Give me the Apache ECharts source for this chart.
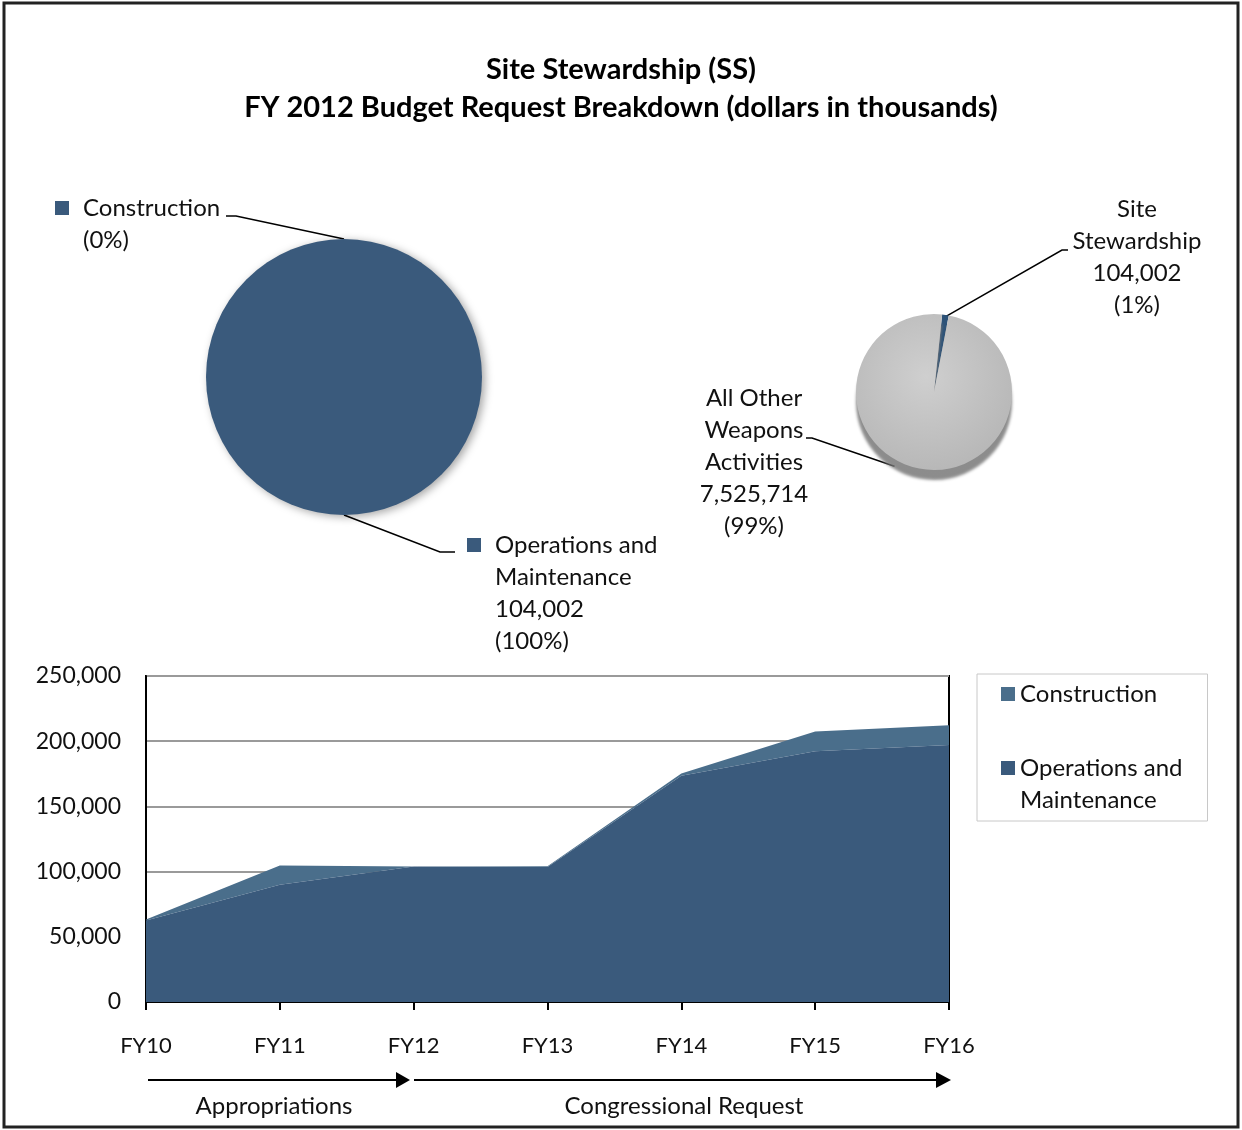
<!DOCTYPE html>
<html>
<head>
<meta charset="utf-8">
<script src="https://cdn.jsdelivr.net/npm/echarts@6/dist/echarts.min.js"></script>
<style>
html,body{margin:0;padding:0;background:#fff;}
#chart{width:1242px;height:1130px;}
</style>
</head>
<body>
<div id="chart"></div>
<script>
// ---------- data ----------
const titleLines = ['Site Stewardship (SS)', 'FY 2012 Budget Request Breakdown (dollars in thousands)'];

const categories = ['FY10', 'FY11', 'FY12', 'FY13', 'FY14', 'FY15', 'FY16'];
const omValues = [62500, 90000, 104002, 103500, 173500, 192300, 197100];
const constructionValues = [700, 14600, 0, 600, 1800, 15100, 15100];
const yAxisMin = 0, yAxisMax = 250000, yAxisInterval = 50000;

const leftPieNames = ['Construction', 'Operations and Maintenance'];
const leftPieValues = [0, 104002];

const rightPieNames = ['Site Stewardship', 'All Other Weapons Activities'];
const rightPieValues = [104002, 7525714];

const periodLabels = ['Appropriations', 'Congressional Request'];

// ---------- styling / layout ----------
const FONT = 'Lato, "Open Sans", sans-serif';
const TXT = '#111';
const C_OM = '#3A5A7C';
const C_CON = '#4A6E8B';
const C_SS = '#2C5278';
const FS = 24;

const LP = {cx: 344, cy: 377, r: 138};
const RP = {cx: 934, cy: 392, r: 78, start: 84};

const lineBreaks = {
  'Operations and Maintenance': ['Operations and', 'Maintenance'],
  'Construction': ['Construction'],
  'Site Stewardship': ['Site', 'Stewardship'],
  'All Other Weapons Activities': ['All Other', 'Weapons', 'Activities']
};
function fmt(v) { return v.toLocaleString('en-US'); }
function edge(cx, cy, r, deg) {
  const a = deg * Math.PI / 180;
  return [cx + r * Math.cos(a), cy - r * Math.sin(a)];
}

const chart = echarts.init(document.getElementById('chart'));

const rightTotal = rightPieValues.reduce((a, b) => a + b, 0);
const ssMid = RP.start - 360 * rightPieValues[0] / rightTotal / 2;

const option = {
  animation: false,
  backgroundColor: '#fff',
  textStyle: {fontFamily: FONT},
  title: {
    text: titleLines.join('\n'),
    left: 'center',
    top: 46,
    textStyle: {fontFamily: FONT, fontSize: 29, fontWeight: 'bold', color: '#000', lineHeight: 38}
  },
  legend: {
    data: ['Construction', 'Operations and Maintenance'],
    orient: 'vertical',
    left: 977,
    top: 674,
    icon: 'rect',
    itemWidth: 14,
    itemHeight: 14,
    itemGap: 10,
    padding: [4, 25, 5, 24],
    borderColor: '#c8c8c8',
    borderWidth: 1,
    selectedMode: false,
    formatter: function (n) {
      return n === 'Operations and Maintenance' ? '\nOperations and\nMaintenance' : n;
    },
    textStyle: {fontFamily: FONT, fontSize: FS, color: TXT, lineHeight: 32}
  },
  grid: {
    left: 146, right: 293, top: 676, bottom: 128,
    show: true, borderColor: '#000', borderWidth: 2, backgroundColor: '#fff',
    outerBoundsMode: 'none'
  },
  xAxis: {
    type: 'category',
    data: categories,
    boundaryGap: false,
    axisLine: {lineStyle: {color: '#000', width: 2}},
    axisTick: {show: true, length: 8, lineStyle: {color: '#000', width: 2}},
    axisLabel: {fontFamily: FONT, fontSize: 22, color: TXT, margin: 33},
    splitLine: {show: false}
  },
  yAxis: {
    type: 'value',
    min: yAxisMin, max: yAxisMax, interval: yAxisInterval,
    axisLine: {show: true, lineStyle: {color: '#000', width: 2}},
    axisTick: {show: false},
    axisLabel: {fontFamily: FONT, fontSize: 23, color: TXT, margin: 25, formatter: v => fmt(v)},
    splitLine: {lineStyle: {color: '#9a9a9a', width: 2}}
  },
  series: [
    {
      name: 'Operations and Maintenance',
      type: 'line',
      stack: 'total',
      data: omValues,
      symbol: 'none',
      lineStyle: {width: 0},
      areaStyle: {color: C_OM, opacity: 1},
      itemStyle: {color: C_OM},
      z: 3
    },
    {
      name: 'Construction',
      type: 'line',
      stack: 'total',
      data: constructionValues,
      symbol: 'none',
      lineStyle: {width: 0},
      areaStyle: {color: C_CON, opacity: 1},
      itemStyle: {color: C_CON},
      z: 2
    },
    {
      name: 'SS breakdown',
      type: 'pie',
      center: [LP.cx, LP.cy],
      radius: [0, LP.r],
      startAngle: 90,
      clockwise: true,
      percentPrecision: 0,
      avoidLabelOverlap: false,
      emphasis: {disabled: true},
      silent: true,
      data: leftPieNames.map((n, i) => ({name: n, value: leftPieValues[i], itemStyle: {color: C_OM}})),
      itemStyle: {shadowBlur: 8, shadowOffsetX: 3, shadowOffsetY: 2, shadowColor: 'rgba(0,0,0,0.35)'},
      label: {
        show: true,
        position: 'outside',
        formatter: function (p) {
          const lines = (lineBreaks[p.name] || [p.name]).slice();
          if (p.value) lines.push(fmt(p.value));
          lines.push('(' + p.percent + '%)');
          return lines.map((l, i) => (i === 0 ? '{sq|}{gap|}' : '{sp|}') + '{t|' + l + '}').join('\n');
        },
        rich: {
          sq: {width: 14, height: 14, backgroundColor: C_OM, verticalAlign: 'middle', lineHeight: 32},
          gap: {width: 14, lineHeight: 32},
          sp: {width: 28, lineHeight: 32},
          t: {fontFamily: FONT, fontSize: FS, color: TXT, lineHeight: 32}
        }
      },
      labelLine: {show: true, lineStyle: {color: '#000', width: 1.5}},
      labelLayout: function (p) {
        if (p.dataIndex === 0) {
          return {
            x: 55, y: 192, align: 'left', verticalAlign: 'top',
            labelLinePoints: [edge(LP.cx, LP.cy, LP.r, 90), [236, 216], [226, 216]]
          };
        }
        return {
          x: 467, y: 529, align: 'left', verticalAlign: 'top',
          labelLinePoints: [edge(LP.cx, LP.cy, LP.r, -90), [440, 552], [455, 552]]
        };
      }
    },
    {
      name: 'Weapons Activities',
      type: 'pie',
      center: [RP.cx, RP.cy],
      radius: [0, RP.r],
      startAngle: RP.start,
      clockwise: true,
      percentPrecision: 0,
      avoidLabelOverlap: false,
      emphasis: {disabled: true},
      silent: true,
      data: rightPieNames.map((n, i) => ({
        name: n, value: rightPieValues[i],
        itemStyle: {
          color: i === 0 ? C_SS : {
            type: 'radial', x: 0.45, y: 0.4, r: 0.7,
            colorStops: [{offset: 0, color: '#CFCFCF'}, {offset: 1, color: '#B4B4B4'}]
          }
        }
      })),
      itemStyle: {shadowBlur: 3, shadowOffsetX: 0, shadowOffsetY: 10, shadowColor: 'rgba(120,120,120,0.85)'},
      label: {
        show: true,
        position: 'outside',
        formatter: function (p) {
          const lines = (lineBreaks[p.name] || [p.name]).slice();
          lines.push(fmt(p.value));
          lines.push('(' + p.percent + '%)');
          return lines.join('\n');
        },
        fontFamily: FONT, fontSize: FS, color: TXT, lineHeight: 32, align: 'center'
      },
      labelLine: {show: true, lineStyle: {color: '#000', width: 1.5}},
      labelLayout: function (p) {
        if (p.dataIndex === 0) {
          return {
            x: 1137, y: 193, align: 'center', verticalAlign: 'top',
            labelLinePoints: [edge(RP.cx, RP.cy, RP.r - 2, ssMid), [1062, 250], [1068, 250]]
          };
        }
        return {
          x: 754, y: 382, align: 'center', verticalAlign: 'top',
          labelLinePoints: [edge(RP.cx, RP.cy, RP.r + 6, -118), [812, 438], [806, 438]]
        };
      }
    }
  ],
  graphic: [
    {type: 'rect', shape: {x: 4, y: 3, width: 1234, height: 1124}, style: {fill: 'none', stroke: '#222', lineWidth: 3}, z: 100},
    {type: 'line', shape: {x1: 148, y1: 1080, x2: 398, y2: 1080}, style: {stroke: '#000', lineWidth: 2}},
    {type: 'polygon', shape: {points: [[396, 1072], [410, 1080], [396, 1088]]}, style: {fill: '#000'}},
    {type: 'line', shape: {x1: 414, y1: 1080, x2: 938, y2: 1080}, style: {stroke: '#000', lineWidth: 2}},
    {type: 'polygon', shape: {points: [[936, 1072], [951, 1080], [936, 1088]]}, style: {fill: '#000'}},
    {type: 'text', x: 274, y: 1106, style: {text: periodLabels[0], fontFamily: FONT, fontSize: FS, fill: TXT, align: 'center', verticalAlign: 'middle'}},
    {type: 'text', x: 684, y: 1106, style: {text: periodLabels[1], fontFamily: FONT, fontSize: FS, fill: TXT, align: 'center', verticalAlign: 'middle'}}
  ]
};
chart.setOption(option);
</script>
</body>
</html>
